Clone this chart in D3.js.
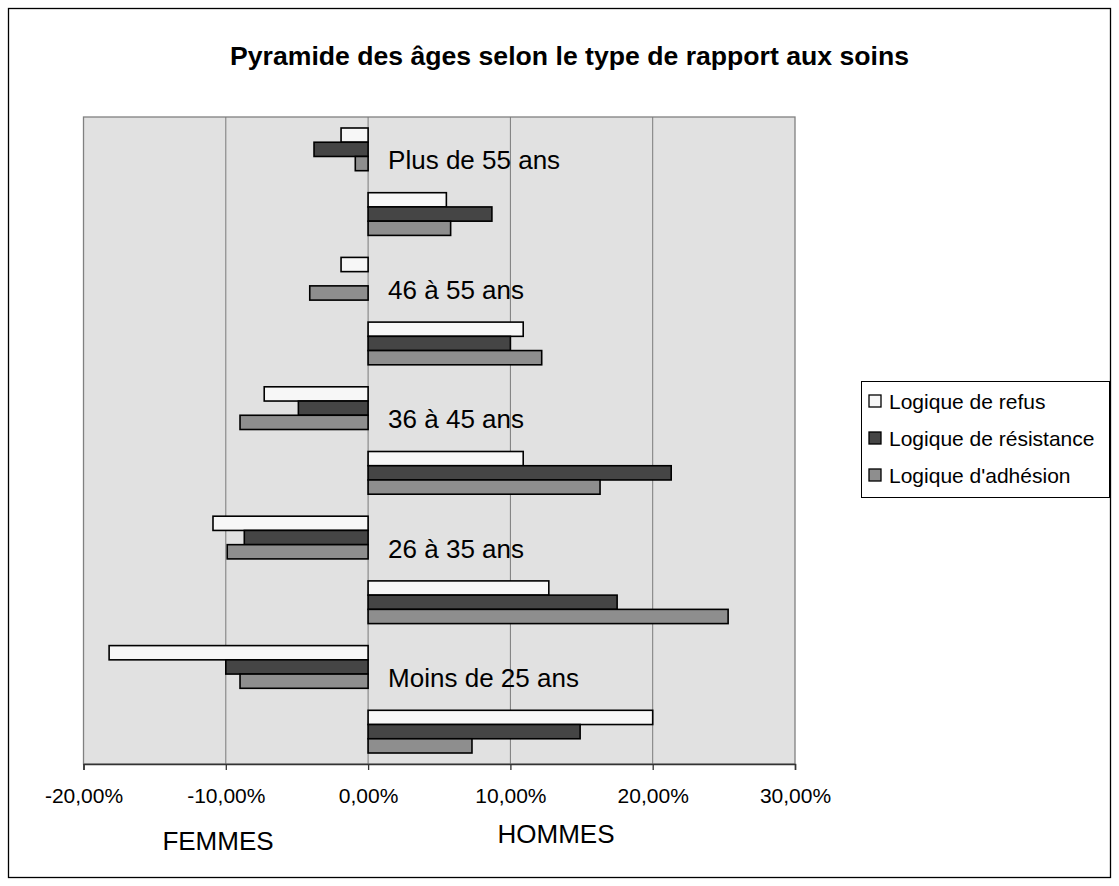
<!DOCTYPE html>
<html>
<head>
<meta charset="utf-8">
<script src="https://cdn.jsdelivr.net/npm/d3@7/dist/d3.min.js"></script>
<style>
  html, body { margin: 0; padding: 0; background: #fff; }
  svg { display: block; }
  text { font-family: "Liberation Sans", Arial, sans-serif; fill: #000; }
</style>
</head>
<body>
<svg id="chart" width="1119" height="886"></svg>
<script>
// ---------- data ----------
const title = "Pyramide des âges selon le type de rapport aux soins";
const ageGroups = ["Plus de 55 ans", "46 à 55 ans", "36 à 45 ans", "26 à 35 ans", "Moins de 25 ans"];
const seriesNames = ["Logique de refus", "Logique de résistance", "Logique d'adhésion"];
const femmesRefus      = [-0.019, -0.019, -0.073, -0.109, -0.182];
const femmesResistance = [-0.038,  0.000, -0.049, -0.087, -0.100];
const femmesAdhesion   = [-0.009, -0.041, -0.090, -0.099, -0.090];
const hommesRefus      = [0.055, 0.109, 0.109, 0.127, 0.200];
const hommesResistance = [0.087, 0.100, 0.213, 0.175, 0.149];
const hommesAdhesion   = [0.058, 0.122, 0.163, 0.253, 0.073];
const xTickValues = [-0.2, -0.1, 0, 0.1, 0.2, 0.3];
const sexLabels = ["FEMMES", "HOMMES"];

// ---------- layout ----------
const svg = d3.select("#chart");
const plot = { left: 83.5, right: 795, top: 117, bottom: 764 };
const colors = ["#f7f7f7", "#454545", "#8e8e8e"];

// rows: for each age group, women row then men row
const rows = [];
ageGroups.forEach((g, i) => {
  rows.push({ id: g + "|F", group: g, sex: "F", values: [femmesRefus[i], femmesResistance[i], femmesAdhesion[i]] });
  rows.push({ id: g + "|H", group: g, sex: "H", values: [hommesRefus[i], hommesResistance[i], hommesAdhesion[i]] });
});

const x = d3.scaleLinear().domain([-0.2, 0.3]).range([plot.left, plot.right]);
const y = d3.scaleBand().domain(rows.map(r => r.id)).range([plot.top, plot.bottom])
  .paddingInner(0.34).paddingOuter(0.17);
const ys = d3.scaleBand().domain(seriesNames).range([0, y.bandwidth()]);

// outer frame
svg.append("rect").attr("x", 8.5).attr("y", 8.5).attr("width", 1102).attr("height", 869)
  .attr("fill", "#fff").attr("stroke", "#000").attr("stroke-width", 1.3);

// title
svg.append("text").attr("x", 569.5).attr("y", 65).attr("text-anchor", "middle")
  .attr("font-weight", "bold").attr("font-size", 25)
  .attr("textLength", 679).attr("lengthAdjust", "spacingAndGlyphs")
  .text(title);

// plot background
svg.append("rect").attr("x", plot.left).attr("y", plot.top)
  .attr("width", plot.right - plot.left).attr("height", plot.bottom - plot.top)
  .attr("fill", "#e1e1e1").attr("stroke", "#808080").attr("stroke-width", 1.3);

// gridlines
svg.append("g").selectAll("line").data(xTickValues.slice(1, -1)).join("line")
  .attr("x1", d => x(d)).attr("x2", d => x(d))
  .attr("y1", plot.top).attr("y2", plot.bottom)
  .attr("stroke", "#7a7a7a").attr("stroke-width", 1);

// bars
const rowG = svg.append("g").selectAll("g").data(rows).join("g")
  .attr("transform", d => `translate(0,${y(d.id)})`);
rowG.selectAll("rect").data(d => d.values.map((v, k) => ({ v, k })).filter(e => e.v !== 0)).join("rect")
  .attr("x", e => Math.min(x(0), x(e.v)))
  .attr("width", e => Math.abs(x(e.v) - x(0)))
  .attr("y", e => ys(seriesNames[e.k]))
  .attr("height", ys.bandwidth())
  .attr("fill", e => colors[e.k])
  .attr("stroke", "#000").attr("stroke-width", 1.6);

// x axis
const pct = d => (d < 0 ? "-" : "") + d3.format(".2f")(Math.abs(d) * 100).replace(".", ",") + "%";
const xAxis = d3.axisBottom(x).tickValues(xTickValues).tickSize(6).tickFormat(pct);
const axG = svg.append("g").attr("transform", `translate(0,${plot.bottom})`).call(xAxis);
axG.select(".domain").attr("stroke", "#333").attr("stroke-width", 1.5);
axG.selectAll(".tick line").attr("stroke", "#333").attr("stroke-width", 1.3);
axG.selectAll(".tick text").attr("font-size", 21).attr("dy", 0).attr("y", 39)
  .style("font-family", '"Liberation Sans", Arial, sans-serif').attr("fill", "#000");

// age group labels (beside women rows)
svg.append("g").selectAll("text").data(ageGroups).join("text")
  .attr("x", x(0) + 20)
  .attr("y", g => y(g + "|F") + y.bandwidth() / 2 + 20)
  .attr("font-size", 26)
  .text(g => g);

// sex labels
svg.append("text").attr("x", 218).attr("y", 850).attr("text-anchor", "middle")
  .attr("font-size", 26).text(sexLabels[0]);
svg.append("text").attr("x", 556).attr("y", 843).attr("text-anchor", "middle")
  .attr("font-size", 26).text(sexLabels[1]);

// legend
const leg = { x: 861, y: 381, w: 248, h: 116 };
svg.append("rect").attr("x", leg.x + 0.5).attr("y", leg.y + 0.5).attr("width", leg.w).attr("height", leg.h)
  .attr("fill", "#fff").attr("stroke", "#000").attr("stroke-width", 1);
const legItems = svg.append("g").selectAll("g").data(seriesNames).join("g")
  .attr("transform", (d, i) => `translate(${leg.x + 8},${leg.y + 20 + i * 37})`);
legItems.append("rect").attr("x", 0).attr("y", -6).attr("width", 12).attr("height", 12)
  .attr("fill", (d, i) => colors[i]).attr("stroke", "#000").attr("stroke-width", 1.3);
legItems.append("text").attr("x", 20).attr("y", 7.5).attr("font-size", 21).text(d => d);
</script>
</body>
</html>
